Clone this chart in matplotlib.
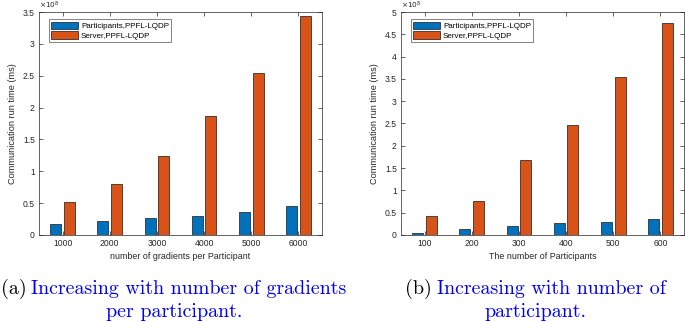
import numpy as np
import matplotlib
matplotlib.use("Agg")
import matplotlib.pyplot as plt
from matplotlib.ticker import FuncFormatter

# data (values in ms)
gradients = [1000, 2000, 3000, 4000, 5000, 6000]
part_grad = [0.17e8, 0.22e8, 0.26e8, 0.30e8, 0.36e8, 0.45e8]
server_grad = [0.52e8, 0.80e8, 1.24e8, 1.87e8, 2.55e8, 3.44e8]

participants = [100, 200, 300, 400, 500, 600]
part_part = [0.05e8, 0.13e8, 0.20e8, 0.26e8, 0.30e8, 0.36e8]
server_part = [0.42e8, 0.76e8, 1.69e8, 2.46e8, 3.55e8, 4.75e8]

series_names = ["Participants,PPFL-LQDP", "Server,PPFL-LQDP"]

BLUE = "#0072BD"
ORANGE = "#D95319"
AXC = "#262626"

plt.rcParams["font.family"] = ["Liberation Sans", "DejaVu Sans"]


def draw_panel(ax, cats, p_vals, s_vals, xlabel, ymax):
    x = np.arange(1, len(cats) + 1)
    w = 0.235
    ax.bar(x - 0.145, p_vals, w, color=BLUE, edgecolor="#303030", linewidth=0.6, label=series_names[0])
    ax.bar(x + 0.145, s_vals, w, color=ORANGE, edgecolor="#303030", linewidth=0.6, label=series_names[1])
    ax.set_xlim(0.5, len(cats) + 0.5)
    ax.set_ylim(0, ymax)
    ax.set_xticks(x)
    ax.set_xticklabels([str(c) for c in cats])
    ax.set_yticks(np.arange(0, ymax + 1, 0.5e8))
    ax.yaxis.set_major_formatter(FuncFormatter(lambda v, p: "%g" % (v / 1e8)))
    ax.tick_params(direction="in", length=3, width=0.5, colors=AXC, labelsize=6.2,
                   top=True, right=True, pad=3)
    for s in ax.spines.values():
        s.set_color(AXC)
        s.set_linewidth(0.5)
    ax.set_xlabel(xlabel, fontsize=6.4, color=AXC, labelpad=3)
    ax.set_ylabel("Communication run time (ms)", fontsize=6.6, color=AXC, labelpad=4)
    ax.text(0.0, 1.004, r"$\times10^8$", transform=ax.transAxes, fontsize=5.3, color=AXC,
            ha="left", va="bottom")
    leg = ax.legend(loc="upper left", fontsize=5.8, frameon=True, fancybox=False,
                    edgecolor=AXC, handlelength=3.4, handleheight=1.0, borderpad=0.3,
                    labelspacing=0.15, handletextpad=0.3, bbox_to_anchor=(0.02, 0.985))
    leg.get_frame().set_linewidth(0.5)


fig = plt.figure(figsize=(6.85, 3.22), dpi=100)
ax1 = fig.add_axes([39 / 685, 1 - 235 / 322, 283 / 685, 223 / 322])
ax2 = fig.add_axes([401 / 685, 1 - 235 / 322, 283 / 685, 223 / 322])

draw_panel(ax1, gradients, part_grad, server_grad, "number of gradients per Participant", 3.5e8)
draw_panel(ax2, participants, part_part, server_part, "The number of Participants", 5e8)

# sub-figure captions
cap = dict(fontfamily="cmr10", fontsize=14.4, va="baseline")
fig.text(1 / 685, 1 - 294 / 322, "(a)", color="black", ha="left", **cap)
fig.text(31 / 685, 1 - 294 / 322, "Increasing with number of gradients", color="#0000EE", ha="left", **cap)
fig.text(174 / 685, 1 - 317 / 322, "per participant.", color="#0000EE", ha="center", **cap)
fig.text(405 / 685, 1 - 294 / 322, "(b)", color="black", ha="left", **cap)
fig.text(437 / 685, 1 - 294 / 322, "Increasing with number of", color="#0000EE", ha="left", **cap)
fig.text(535 / 685, 1 - 317 / 322, "participant.", color="#0000EE", ha="center", **cap)

fig.savefig("out.png", dpi=100)
